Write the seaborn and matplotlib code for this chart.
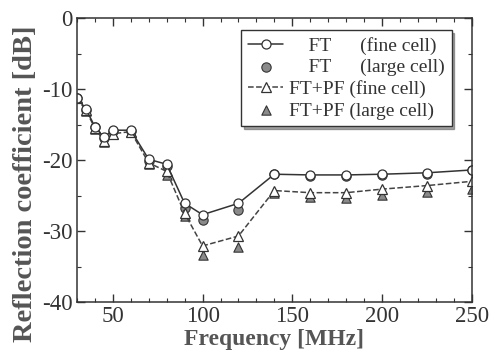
import numpy as np
import pandas as pd
import seaborn as sns
import matplotlib.pyplot as plt
from matplotlib.ticker import MultipleLocator

# Data
freq = [30, 35, 40, 45, 50, 60, 70, 80, 90, 100, 120, 140, 160, 180, 200, 225, 250]
ft_fine = [-11.2, -12.8, -15.3, -16.8, -15.8, -15.8, -19.9, -20.6, -26.1, -27.7,
           -26.1, -22.0, -22.1, -22.1, -22.0, -21.8, -21.4]
ft_large = [-11.2, -12.9, -15.4, -16.9, -15.9, -15.9, -20.1, -20.8, -26.8, -28.5,
            -27.0, -22.0, -22.2, -22.2, -22.1, -21.9, -21.4]
pf_fine = [-11.3, -13.0, -15.5, -17.3, -16.3, -16.0, -20.4, -21.6, -27.5, -32.1,
           -30.7, -24.3, -24.6, -24.6, -24.1, -23.6, -23.0]
pf_large = [-11.3, -13.1, -15.6, -17.4, -16.4, -16.1, -20.6, -22.1, -27.9, -33.4,
            -32.2, -24.7, -25.2, -25.4, -24.9, -24.5, -24.1]

df = pd.DataFrame({'freq': freq, 'ft_fine': ft_fine, 'ft_large': ft_large,
                   'pf_fine': pf_fine, 'pf_large': pf_large})

sns.set_style("ticks")
plt.rcParams['font.family'] = ['Liberation Serif', 'DejaVu Serif']
plt.rcParams['axes.unicode_minus'] = False

fig, ax = plt.subplots(figsize=(4.93, 3.6), dpi=100)
fig.subplots_adjust(left=0.156, right=0.957, top=0.95, bottom=0.161)

grey = '#8a8a8a'
ms = 6.5

# FT+PF fine (dashed, open triangles)
sns.lineplot(data=df, x='freq', y='pf_fine', ax=ax, color='#444444', lw=1.1,
             linestyle='--', marker='^', markersize=ms, markerfacecolor='white',
             markeredgecolor='#333333', markeredgewidth=0.9,
             label='FT+PF (fine cell)')
# FT+PF large (grey triangles)
sns.scatterplot(data=df, x='freq', y='pf_large', ax=ax, marker='^', s=45,
                color=grey, edgecolor='#333333', linewidth=0.8,
                label='FT+PF (large cell)')
# FT fine (solid, open circles)
sns.lineplot(data=df, x='freq', y='ft_fine', ax=ax, color='#333333', lw=1.1,
             marker='o', markersize=ms, markerfacecolor='white',
             markeredgecolor='#333333', markeredgewidth=0.9,
             label='    FT      (fine cell)')
# FT large (grey circles)
sns.scatterplot(data=df, x='freq', y='ft_large', ax=ax, marker='o', s=45,
                color=grey, edgecolor='#333333', linewidth=0.8,
                label='    FT      (large cell)')

ax.set_xlim(30, 250)
ax.set_ylim(-40, 0)
ax.xaxis.set_major_locator(MultipleLocator(50))
ax.xaxis.set_minor_locator(MultipleLocator(10))
ax.yaxis.set_major_locator(MultipleLocator(10))
ax.yaxis.set_minor_locator(MultipleLocator(5))
ax.tick_params(which='both', direction='in', top=True, right=True,
               labelsize=16.5, colors='#333333', pad=3)
ax.tick_params(which='major', length=6, width=1)
ax.tick_params(which='minor', length=3, width=0.8)
for s in ax.spines.values():
    s.set_color('#333333')
    s.set_linewidth(1.1)

ax.set_xlabel('Frequency [MHz]', fontsize=17, fontweight='bold', color='#555555', labelpad=1)
ax.set_ylabel('Reflection coefficient [dB]', fontsize=20.5, fontweight='bold', color='#555555')
ax.yaxis.set_label_coords(-0.098, 0.415)

handles, labels = ax.get_legend_handles_labels()
order = [2, 3, 0, 1]
leg = ax.legend([handles[i] for i in order], [labels[i] for i in order],
                loc='upper right', bbox_to_anchor=(0.949, 0.958), fontsize=14,
                frameon=True, fancybox=False, shadow=True, edgecolor='#333333',
                handlelength=1.8, handletextpad=0.3, labelspacing=0.2,
                borderpad=0.35, borderaxespad=0)
leg.get_frame().set_linewidth(1.0)
for t in leg.get_texts():
    t.set_color('#333333')

fig.savefig('out.png', dpi=100)
